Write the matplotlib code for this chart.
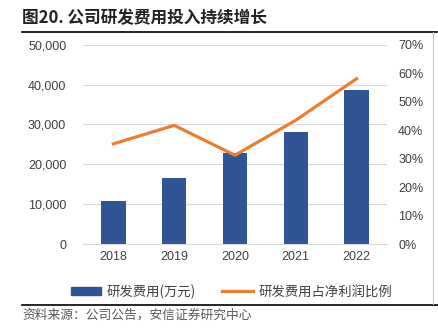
import matplotlib
matplotlib.use("Agg")
import matplotlib.pyplot as plt
from matplotlib.lines import Line2D
from matplotlib.patches import Patch
from matplotlib.ticker import FuncFormatter

plt.rcParams['font.family'] = ['Noto Sans CJK SC', 'DejaVu Sans']

years = ['2018', '2019', '2020', '2021', '2022']
rd_cost = [10700, 16500, 22900, 28100, 38600]          # 万元
rd_ratio = [35.2, 41.7, 31.2, 43.5, 58.1]             # %

bar_color = '#2F5597'
line_color = '#ED7D31'
tick_font = ['Liberation Sans', 'DejaVu Sans']

fig = plt.figure(figsize=(4.39, 3.32), dpi=100)
ax = fig.add_axes([0.189, 0.265, 0.6925, 0.6])
ax2 = ax.twinx()

x = range(len(years))
ax.bar(x, rd_cost, width=0.4, color=bar_color, zorder=2)
ax2.plot(x, rd_ratio, color=line_color, lw=2.3, zorder=3)

ax.set_xlim(-0.5, 4.5)
ax.set_ylim(0, 50000)
ax.set_yticks(range(0, 50001, 10000))
ax.yaxis.set_major_formatter(FuncFormatter(lambda v, p: f'{int(v):,}'))
ax2.set_ylim(0, 70)
ax2.set_yticks(range(0, 71, 10))
ax2.yaxis.set_major_formatter(FuncFormatter(lambda v, p: f'{int(v)}%'))

ax.set_xticks(list(x))
ax.set_xticklabels(years)
ax.grid(axis='y', color='#d9d9d9', lw=0.8, zorder=0)
for a in (ax, ax2):
    for s in a.spines.values():
        s.set_visible(False)
    a.tick_params(length=0, labelsize=9, colors='#404040')
    for lab in a.get_xticklabels() + a.get_yticklabels():
        lab.set_family(tick_font)
ax.spines['bottom'].set_visible(True)
ax.spines['bottom'].set_color('#d9d9d9')
ax.tick_params(axis='y', pad=12)
ax.tick_params(axis='x', pad=5)
ax2.tick_params(axis='y', pad=8)

handles = [Patch(color=bar_color), Line2D([0], [0], color=line_color, lw=2.3)]
fig.legend(handles, ['研发费用(万元)', '研发费用占净利润比例'], loc='center',
           bbox_to_anchor=(0.527, 0.122), ncol=2, frameon=False, fontsize=9.6,
           handlelength=2.3, handleheight=0.55, handletextpad=0.4,
           columnspacing=2.0, labelcolor='#404040')

fig.text(0.05, 0.945, '图20. 公司研发费用投入持续增长', fontsize=12,
         fontweight='bold', color='#222222', va='center')
fig.add_artist(Line2D([0.05, 0.995], [0.905, 0.905], color='black', lw=1.2))
fig.add_artist(Line2D([0.05, 1.0], [0.081, 0.081], color='black', lw=1.2))
fig.add_artist(Line2D([0.986, 0.986], [0.085, 0.903], color='#c8c8c8', lw=0.8))
fig.text(0.05, 0.052, '资料来源：公司公告，安信证券研究中心', fontsize=9.2,
         color='#595959', va='center')

fig.savefig('out.png', dpi=100)
